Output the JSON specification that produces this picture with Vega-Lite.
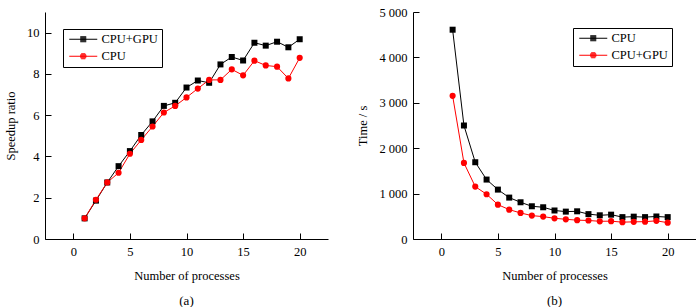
{
  "$schema": "https://vega.github.io/schema/vega-lite/v6.json",
  "padding": {"left": 4, "top": 6, "right": 0, "bottom": 0},
  "spacing": 28,
  "config": {
    "view": {"stroke": null},
    "font": "Liberation Serif",
    "axis": {
      "grid": false,
      "domainColor": "#000000",
      "domainWidth": 1,
      "tickColor": "#000000",
      "tickWidth": 1,
      "ticks": false,
      "labelPadding": 6,
      "labelFont": "Liberation Serif",
      "labelFontSize": 12.5,
      "labelColor": "#000000",
      "titleFont": "Liberation Serif",
      "titleFontSize": 12.5,
      "titleFontWeight": "normal",
      "titleColor": "#000000"
    },
    "axisY": {"titlePadding": 9},
    "axisX": {"titlePadding": 12},
    "legend": {
      "orient": "none",
      "title": null,
      "strokeColor": "#000000",
      "strokeWidth": 1,
      "padding": 4,
      "labelFont": "Liberation Serif",
      "labelFontSize": 12.5,
      "labelColor": "#000000",
      "symbolSize": 64,
      "symbolStrokeWidth": 1,
      "symbolOpacity": 1,
      "labelOffset": 12,
      "symbolOffset": 10,
      "rowPadding": 4
    },
    "title": {"font": "Liberation Serif", "fontSize": 13, "fontWeight": "normal", "color": "#000000"}
  },
  "resolve": {"scale": {"color": "independent", "shape": "independent"}, "legend": {"color": "independent", "shape": "independent"}},
  "hconcat": [
    {
      "width": 283,
      "height": 227,
      "title": {"text": "(a)", "orient": "bottom", "anchor": "middle", "offset": 13},
      "data": {"values": [
        {"n": 1, "s": "CPU+GPU", "v": 1.0}, {"n": 2, "s": "CPU+GPU", "v": 1.86}, {"n": 3, "s": "CPU+GPU", "v": 2.74},
        {"n": 4, "s": "CPU+GPU", "v": 3.53}, {"n": 5, "s": "CPU+GPU", "v": 4.26}, {"n": 6, "s": "CPU+GPU", "v": 5.04},
        {"n": 7, "s": "CPU+GPU", "v": 5.70}, {"n": 8, "s": "CPU+GPU", "v": 6.45}, {"n": 9, "s": "CPU+GPU", "v": 6.60},
        {"n": 10, "s": "CPU+GPU", "v": 7.34}, {"n": 11, "s": "CPU+GPU", "v": 7.68}, {"n": 12, "s": "CPU+GPU", "v": 7.57},
        {"n": 13, "s": "CPU+GPU", "v": 8.46}, {"n": 14, "s": "CPU+GPU", "v": 8.82}, {"n": 15, "s": "CPU+GPU", "v": 8.65},
        {"n": 16, "s": "CPU+GPU", "v": 9.51}, {"n": 17, "s": "CPU+GPU", "v": 9.37}, {"n": 18, "s": "CPU+GPU", "v": 9.56},
        {"n": 19, "s": "CPU+GPU", "v": 9.29}, {"n": 20, "s": "CPU+GPU", "v": 9.68},
        {"n": 1, "s": "CPU", "v": 1.0}, {"n": 2, "s": "CPU", "v": 1.9}, {"n": 3, "s": "CPU", "v": 2.74},
        {"n": 4, "s": "CPU", "v": 3.21}, {"n": 5, "s": "CPU", "v": 4.13}, {"n": 6, "s": "CPU", "v": 4.80},
        {"n": 7, "s": "CPU", "v": 5.45}, {"n": 8, "s": "CPU", "v": 6.13}, {"n": 9, "s": "CPU", "v": 6.45},
        {"n": 10, "s": "CPU", "v": 6.86}, {"n": 11, "s": "CPU", "v": 7.29}, {"n": 12, "s": "CPU", "v": 7.71},
        {"n": 13, "s": "CPU", "v": 7.71}, {"n": 14, "s": "CPU", "v": 8.22}, {"n": 15, "s": "CPU", "v": 7.93},
        {"n": 16, "s": "CPU", "v": 8.64}, {"n": 17, "s": "CPU", "v": 8.41}, {"n": 18, "s": "CPU", "v": 8.35},
        {"n": 19, "s": "CPU", "v": 7.78}, {"n": 20, "s": "CPU", "v": 8.78}
      ]},
      "resolve": {"axis": {"x": "independent", "y": "independent"}},
      "layer": [
        {"mark": {"type": "line", "strokeWidth": 1},
         "encoding": {
           "x": {"field": "n", "type": "quantitative", "scale": {"domain": [-2.5, 22.5], "nice": false, "zero": false},
                 "axis": {"values": [0, 5, 10, 15, 20], "title": "Number of processes"}},
           "y": {"field": "v", "type": "quantitative", "scale": {"domain": [0, 11], "nice": false},
                 "axis": {"values": [0, 2, 4, 6, 8, 10], "title": "Speedup ratio"}},
           "color": {"field": "s", "type": "nominal", "scale": {"domain": ["CPU+GPU", "CPU"], "range": ["#000000", "#ff0000"]},
                     "legend": {"legendX": 18, "legendY": 17}}}},
        {"transform": [{"filter": "datum.s == 'CPU+GPU'"}],
         "mark": {"type": "square", "size": 36, "opacity": 1, "color": "#000000"},
         "encoding": {
           "x": {"field": "n", "type": "quantitative", "scale": {"domain": [-2.5, 22.5], "nice": false, "zero": false},
                 "axis": {"orient": "top", "offset": -227, "values": [0, 5, 10, 15, 20], "title": null, "labels": false, "domain": false, "ticks": true, "tickSize": 6}},
           "y": {"field": "v", "type": "quantitative", "scale": {"domain": [0, 11], "nice": false},
                 "axis": {"orient": "right", "offset": -283, "values": [0, 2, 4, 6, 8, 10], "title": null, "labels": false, "domain": false, "ticks": true, "tickSize": 6}}}},
        {"transform": [{"filter": "datum.s == 'CPU'"}],
         "mark": {"type": "circle", "size": 38, "opacity": 1, "color": "#ff0000"},
         "encoding": {"x": {"field": "n", "type": "quantitative", "axis": null}, "y": {"field": "v", "type": "quantitative", "axis": null}}},
        {"transform": [{"filter": "false"}],
         "mark": {"type": "point", "filled": false, "strokeWidth": 1},
         "encoding": {
           "x": {"field": "n", "type": "quantitative", "axis": null}, "y": {"field": "v", "type": "quantitative", "axis": null},
           "color": {"field": "s", "type": "nominal", "scale": {"domain": ["CPU+GPU", "CPU"], "range": ["#000000", "#ff0000"]},
                     "legend": {"legendX": 18, "legendY": 17}},
           "shape": {"field": "s", "type": "nominal",
                     "scale": {"domain": ["CPU+GPU", "CPU"], "range": [
                       "M-3.5,0H3.5M-0.75,-0.625H0.75M-0.75,-0.375H0.75M-0.75,-0.125H0.75M-0.75,0.125H0.75M-0.75,0.375H0.75M-0.75,0.625H0.75",
                       "M-3.5,0H3.5M-0.52,-0.625H0.52M-0.72,-0.375H0.72M-0.8,-0.125H0.8M-0.8,0.125H0.8M-0.72,0.375H0.72M-0.52,0.625H0.52"]},
                     "legend": {"legendX": 18, "legendY": 17}}}}
      ]
    },
    {
      "width": 283,
      "height": 227,
      "title": {"text": "(b)", "orient": "bottom", "anchor": "middle", "offset": 13},
      "data": {"values": [
        {"n": 1, "s": "CPU", "v": 4610}, {"n": 2, "s": "CPU", "v": 2500}, {"n": 3, "s": "CPU", "v": 1691},
        {"n": 4, "s": "CPU", "v": 1309}, {"n": 5, "s": "CPU", "v": 1088}, {"n": 6, "s": "CPU", "v": 912},
        {"n": 7, "s": "CPU", "v": 809}, {"n": 8, "s": "CPU", "v": 721}, {"n": 9, "s": "CPU", "v": 699},
        {"n": 10, "s": "CPU", "v": 628}, {"n": 11, "s": "CPU", "v": 603}, {"n": 12, "s": "CPU", "v": 610},
        {"n": 13, "s": "CPU", "v": 548}, {"n": 14, "s": "CPU", "v": 522}, {"n": 15, "s": "CPU", "v": 536},
        {"n": 16, "s": "CPU", "v": 482}, {"n": 17, "s": "CPU", "v": 492}, {"n": 18, "s": "CPU", "v": 482},
        {"n": 19, "s": "CPU", "v": 496}, {"n": 20, "s": "CPU", "v": 482},
        {"n": 1, "s": "CPU+GPU", "v": 3154}, {"n": 2, "s": "CPU+GPU", "v": 1676}, {"n": 3, "s": "CPU+GPU", "v": 1154},
        {"n": 4, "s": "CPU+GPU", "v": 985}, {"n": 5, "s": "CPU+GPU", "v": 757}, {"n": 6, "s": "CPU+GPU", "v": 647},
        {"n": 7, "s": "CPU+GPU", "v": 574}, {"n": 8, "s": "CPU+GPU", "v": 515}, {"n": 9, "s": "CPU+GPU", "v": 493},
        {"n": 10, "s": "CPU+GPU", "v": 456}, {"n": 11, "s": "CPU+GPU", "v": 434}, {"n": 12, "s": "CPU+GPU", "v": 415},
        {"n": 13, "s": "CPU+GPU", "v": 408}, {"n": 14, "s": "CPU+GPU", "v": 390}, {"n": 15, "s": "CPU+GPU", "v": 393},
        {"n": 16, "s": "CPU+GPU", "v": 371}, {"n": 17, "s": "CPU+GPU", "v": 378}, {"n": 18, "s": "CPU+GPU", "v": 382},
        {"n": 19, "s": "CPU+GPU", "v": 400}, {"n": 20, "s": "CPU+GPU", "v": 360}
      ]},
      "resolve": {"axis": {"x": "independent", "y": "independent"}},
      "layer": [
        {"mark": {"type": "line", "strokeWidth": 1},
         "encoding": {
           "x": {"field": "n", "type": "quantitative", "scale": {"domain": [-2.5, 22.5], "nice": false, "zero": false},
                 "axis": {"values": [0, 5, 10, 15, 20], "title": "Number of processes"}},
           "y": {"field": "v", "type": "quantitative", "scale": {"domain": [0, 5000], "nice": false},
                 "axis": {"values": [0, 1000, 2000, 3000, 4000, 5000], "title": "Time / s",
                          "labelExpr": "replace(format(datum.value, ','), ',', ' ')"}},
           "color": {"field": "s", "type": "nominal", "scale": {"domain": ["CPU", "CPU+GPU"], "range": ["#000000", "#ff0000"]},
                     "legend": {"legendX": 160, "legendY": 16}}}},
        {"transform": [{"filter": "datum.s == 'CPU'"}],
         "mark": {"type": "square", "size": 36, "opacity": 1, "color": "#000000"},
         "encoding": {
           "x": {"field": "n", "type": "quantitative", "scale": {"domain": [-2.5, 22.5], "nice": false, "zero": false},
                 "axis": {"orient": "top", "offset": -227, "values": [0, 5, 10, 15, 20], "title": null, "labels": false, "domain": false, "ticks": true, "tickSize": 6}},
           "y": {"field": "v", "type": "quantitative", "scale": {"domain": [0, 5000], "nice": false},
                 "axis": {"orient": "right", "offset": -283, "values": [0, 1000, 2000, 3000, 4000, 5000], "title": null, "labels": false, "domain": false, "ticks": true, "tickSize": 6}}}},
        {"transform": [{"filter": "datum.s == 'CPU+GPU'"}],
         "mark": {"type": "circle", "size": 38, "opacity": 1, "color": "#ff0000"},
         "encoding": {"x": {"field": "n", "type": "quantitative", "axis": null}, "y": {"field": "v", "type": "quantitative", "axis": null}}},
        {"transform": [{"filter": "false"}],
         "mark": {"type": "point", "filled": false, "strokeWidth": 1},
         "encoding": {
           "x": {"field": "n", "type": "quantitative", "axis": null}, "y": {"field": "v", "type": "quantitative", "axis": null},
           "color": {"field": "s", "type": "nominal", "scale": {"domain": ["CPU", "CPU+GPU"], "range": ["#000000", "#ff0000"]},
                     "legend": {"legendX": 160, "legendY": 16}},
           "shape": {"field": "s", "type": "nominal",
                     "scale": {"domain": ["CPU", "CPU+GPU"], "range": [
                       "M-3.5,0H3.5M-0.75,-0.625H0.75M-0.75,-0.375H0.75M-0.75,-0.125H0.75M-0.75,0.125H0.75M-0.75,0.375H0.75M-0.75,0.625H0.75",
                       "M-3.5,0H3.5M-0.52,-0.625H0.52M-0.72,-0.375H0.72M-0.8,-0.125H0.8M-0.8,0.125H0.8M-0.72,0.375H0.72M-0.52,0.625H0.52"]},
                     "legend": {"legendX": 160, "legendY": 16}}}}
      ]
    }
  ]
}
